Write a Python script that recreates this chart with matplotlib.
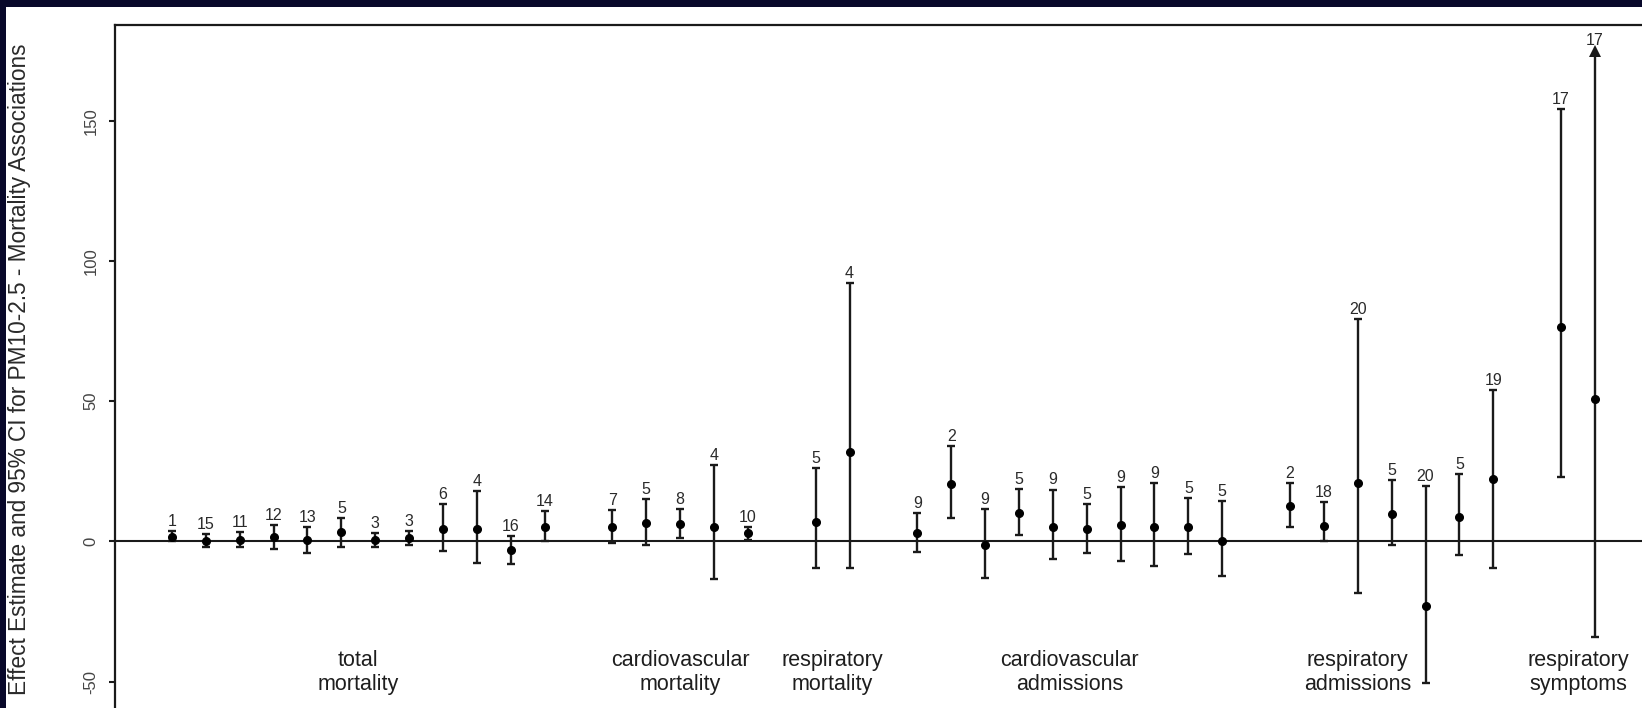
import numpy as np
import matplotlib
matplotlib.use("Agg")
from matplotlib import pyplot as plt
from matplotlib.patches import Rectangle

plt.rcParams['font.family'] = ['Liberation Sans', 'DejaVu Sans']
plt.rcParams['axes.unicode_minus'] = False

# group names (two-line labels under each block)
groups = ["total\nmortality", "cardiovascular\nmortality", "respiratory\nmortality",
          "cardiovascular\nadmissions", "respiratory\nadmissions", "respiratory\nsymptoms"]

# study numbers printed above each bar
studies = [
    [1, 15, 11, 12, 13, 5, 3, 3, 6, 4, 16, 14],
    [7, 5, 8, 4, 10],
    [5, 4],
    [9, 2, 9, 5, 9, 5, 9, 9, 5, 5],
    [2, 18, 20, 5, 20, 5, 19],
    [17, 17],
]

# effect estimates
est = [
    [1.6, 0.0, 0.6, 1.5, 0.6, 3.2, 0.6, 1.2, 4.6, 4.4, -3.2, 5.1],
    [5.3, 6.5, 6.3, 5.0, 2.9],
    [6.9, 32.0],
    [3.0, 20.4, -1.4, 10.2, 5.3, 4.3, 5.7, 5.1, 5.1, 0.0],
    [12.7, 5.5, 21.0, 9.9, -22.9, 8.7, 22.2],
    [76.6, 50.7],
]

# lower 95% CI
lower = [
    [0.2, -2.1, -1.9, -2.7, -4.2, -1.8, -1.8, -1.3, -3.3, -7.7, -8.1, 0.0],
    [-0.6, -1.1, 1.1, -13.2, 0.6],
    [-9.6, -9.5],
    [-3.8, 8.3, -13.1, 2.4, -6.4, -4.0, -7.0, -8.8, -4.6, -12.4],
    [5.2, 0.0, -18.3, -1.1, -50.5, -4.8, -9.3],
    [22.9, -33.9],
]

# upper 95% CI
upper = [
    [3.8, 2.5, 3.2, 5.9, 5.3, 8.3, 3.0, 3.8, 13.2, 18.1, 2.0, 10.7],
    [11.1, 15.0, 11.5, 27.2, 5.1],
    [26.3, 92.1],
    [10.2, 34.0, 11.5, 18.7, 18.5, 13.4, 19.5, 20.9, 15.6, 14.4],
    [20.8, 14.0, 79.3, 22.0, 19.7, 24.0, 54.1],
    [154.2, 175.0],
]

# last symptoms interval runs off the chart -> arrow head instead of cap
truncated = [
    [False] * 12, [False] * 5, [False] * 2, [False] * 10, [False] * 7, [False, True],
]

# the group caption isn't always centred on its block
label_shift = [0, 0, 0, 0, -1, 0]

W, H = 1642, 708
fig = plt.figure(figsize=(W / 100, H / 100), dpi=100, facecolor='#08082a')
fig.patches.append(Rectangle((6 / W, 0), 1, 1 - 7 / H, transform=fig.transFigure,
                             facecolor='white', edgecolor='none', zorder=-10))

ax = fig.add_axes([115 / W, 0, (W - 115) / W, (H - 25) / H])
ax.set_facecolor('white')

ink = '#1a1a1a'
lw = 1.7
pos = 1
for g in range(len(groups)):
    n = len(est[g])
    xs = np.arange(pos, pos + n)
    e = np.array(est[g])
    lo = np.array(lower[g])
    hi = np.array(upper[g])
    for i in range(n):
        if truncated[g][i]:
            ax.vlines(xs[i], lo[i], hi[i], color=ink, lw=lw)
            ax.hlines(lo[i], xs[i] - 0.13, xs[i] + 0.13, color=ink, lw=lw)
            ax.plot(xs[i], hi[i], marker='^', color=ink, ms=8, mew=0)
            ax.plot(xs[i], e[i], 'o', color='black', ms=5.5)
        else:
            ax.errorbar(xs[i], e[i], yerr=[[e[i] - lo[i]], [hi[i] - e[i]]], fmt='o',
                        color='black', ecolor=ink, ms=5.5, capsize=3.2, elinewidth=lw,
                        capthick=lw)
        ax.annotate(str(studies[g][i]), (xs[i], hi[i]), xytext=(0, 1.5),
                    textcoords='offset points', ha='center', va='bottom',
                    fontsize=11.5, color='#2a2a2a')
    ax.text(xs.mean() + label_shift[g], -46.6, groups[g], ha='center', va='center',
            fontsize=15.5, color='#1e1e1e', linespacing=1.2)
    pos += n + 1

ax.axhline(0, color=ink, lw=1.5, zorder=0.5)

ax.set_xlim(-0.68, 44.39)
ax.set_ylim(-59.36, 184.1)
ax.set_xticks([])
ax.set_yticks([-50, 0, 50, 100, 150])
ax.tick_params(axis='y', length=4.5, width=1.5, color=ink, pad=7.5, labelsize=12,
               labelcolor='#444444')
for lab in ax.get_yticklabels():
    lab.set_rotation(90)
    lab.set_va('center')
for s in ['bottom', 'right']:
    ax.spines[s].set_visible(False)
for s in ['left', 'top']:
    ax.spines[s].set_linewidth(1.6)
    ax.spines[s].set_color(ink)

fig.text(20 / W, 1 - 369 / H, "Effect Estimate and 95% CI for PM10-2.5 - Mortality Associations",
         rotation=90, ha='center', va='center', fontsize=16.3, color='#2a2a2a')

fig.savefig('out.png', dpi=100, facecolor=fig.get_facecolor())
